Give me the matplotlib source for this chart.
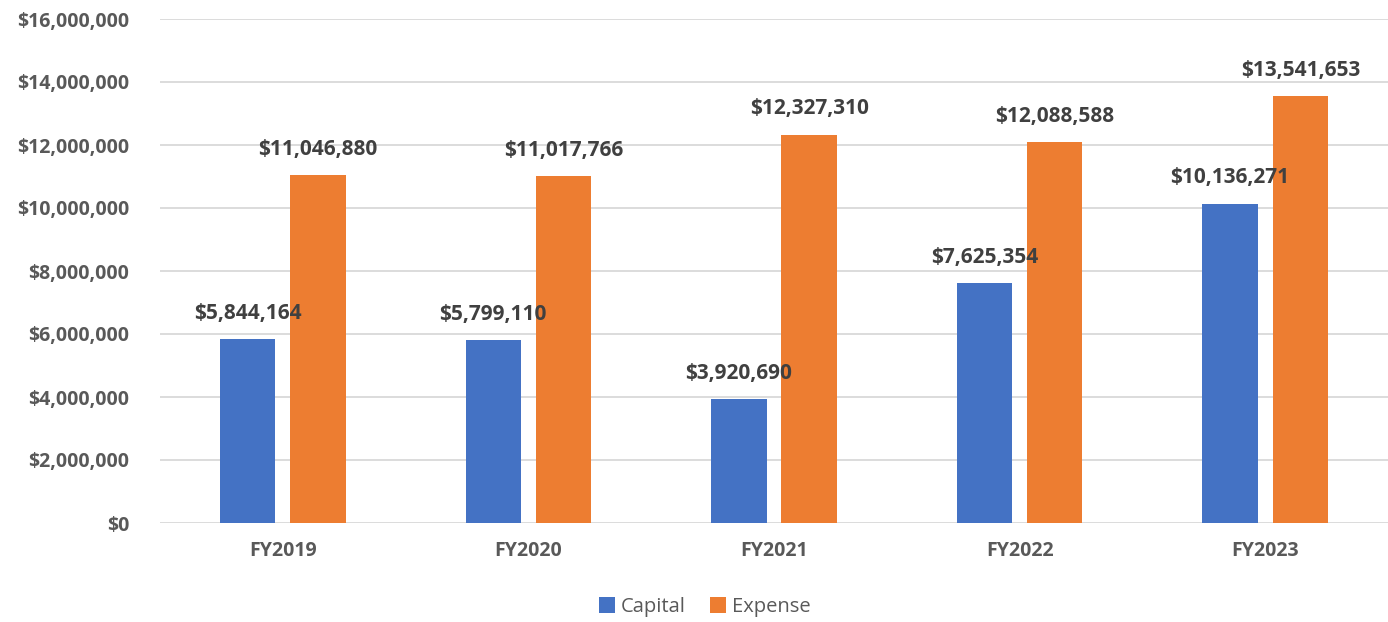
import matplotlib.pyplot as plt
import numpy as np
from matplotlib.ticker import FuncFormatter

years = ['FY2019', 'FY2020', 'FY2021', 'FY2022', 'FY2023']
capital = [5844164, 5799110, 3920690, 7625354, 10136271]
expense = [11046880, 11017766, 12327310, 12088588, 13541653]

plt.rcParams['font.family'] = ['Open Sans', 'DejaVu Sans']


def main():
    fig = plt.figure(figsize=(13.88, 6.22), dpi=100)
    ax = fig.add_axes([160 / 1388, 1 - 523 / 622, 1228 / 1388, 504 / 622])

    x = np.arange(len(years))
    w = 0.226
    off = 0.143
    b1 = ax.bar(x - off, capital, w, color='#4472C4', label='Capital', zorder=2)
    b2 = ax.bar(x + off, expense, w, color='#ED7D31', label='Expense', zorder=2)

    # data labels
    for bars in (b1, b2):
        for rect in bars:
            h = rect.get_height()
            ax.annotate('${:,.0f}'.format(h),
                        (rect.get_x() + rect.get_width() / 2, h),
                        xytext=(0, 11), textcoords='offset points',
                        ha='center', va='bottom', fontsize=15,
                        fontweight='bold', color='#404040', zorder=5)

    ax.set_xlim(-0.5, len(years) - 0.5)
    ax.set_ylim(0, 16000000)
    ax.set_yticks(np.arange(0, 16000001, 2000000))
    ax.yaxis.set_major_formatter(FuncFormatter(lambda v, p: '${:,.0f}'.format(v)))
    ax.set_xticks(x)
    ax.set_xticklabels(years)
    ax.grid(axis='y', color='#D9D9D9', linewidth=1.3, zorder=0)
    ax.set_axisbelow(True)
    for s in ax.spines.values():
        s.set_visible(False)
    ax.tick_params(length=0, labelsize=14, labelcolor='#595959')
    ax.tick_params(axis='y', pad=22)
    ax.tick_params(axis='x', pad=13)
    for lab in ax.get_xticklabels() + ax.get_yticklabels():
        lab.set_fontweight('bold')

    fig.legend(handles=[b1, b2], loc='center', bbox_to_anchor=(705 / 1388, 1 - 607 / 622),
               ncol=2, frameon=False, fontsize=14.5, labelcolor='#595959',
               handlelength=0.8, handleheight=0.8, handletextpad=0.3, columnspacing=1.2)

    fig.savefig('out.png', dpi=100)


if __name__ == '__main__':
    main()
